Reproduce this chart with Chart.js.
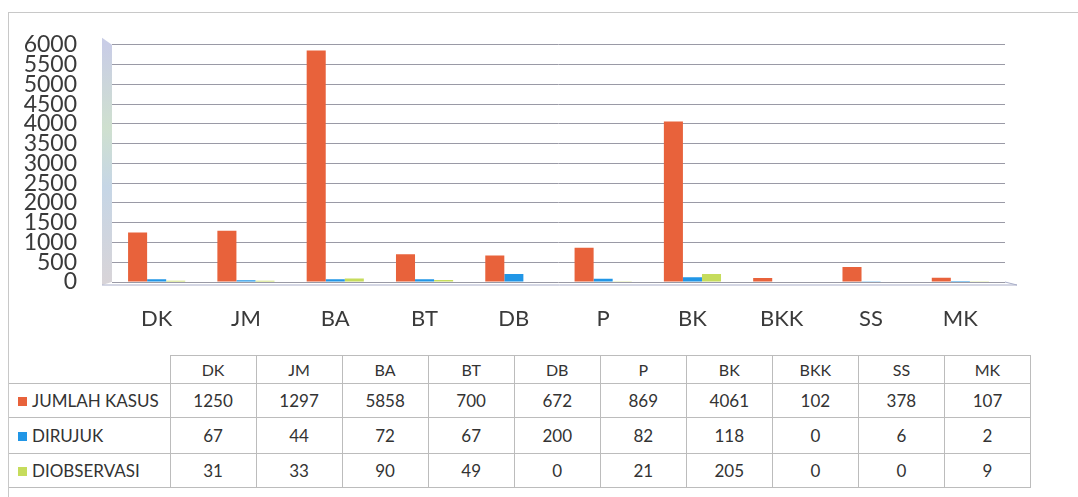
<!DOCTYPE html>
<html>
<head>
<meta charset="utf-8">
<script src="https://cdn.jsdelivr.net/npm/chart.js@4/dist/chart.umd.min.js"></script>
<style>
  html, body { margin: 0; padding: 0; background: #fff; }
  body { width: 1078px; height: 497px; position: relative; overflow: hidden; font-family: Lato, "Open Sans", sans-serif; }
  #frame { position: absolute; left: 8px; top: 12px; width: 1080px; height: 500px; border-left: 1px solid #c8c8c8; border-top: 1px solid #c8c8c8; }
  #chartBox { position: absolute; left: 0; top: 0; width: 1078px; height: 345px; }
  #dataTable { position: absolute; left: 9px; top: 355px; width: 1022px; table-layout: fixed; border-collapse: collapse; color: #333; font-size: 17px; }
  #dataTable td { border: 1px solid #bcbcbc; text-align: center; padding: 0; }
  #dataTable td.name { text-align: left; padding-left: 9px; border-left: none; white-space: nowrap; overflow: hidden; }
  #dataTable td.blank { border: none; border-bottom: 1px solid #bcbcbc; }
  #dataTable tr.head td { font-size: 16px; }
  .key { display: inline-block; width: 9px; height: 9px; margin-right: 5px; vertical-align: 1px; }
</style>
</head>
<body>
<div id="frame"></div>
<div id="chartBox"><canvas id="myChart" width="1078" height="345"></canvas></div>
<table id="dataTable"></table>
<script>
const categories = ['DK', 'JM', 'BA', 'BT', 'DB', 'P', 'BK', 'BKK', 'SS', 'MK'];
const jumlahKasus = [1250, 1297, 5858, 700, 672, 869, 4061, 102, 378, 107];
const dirujuk = [67, 44, 72, 67, 200, 82, 118, 0, 6, 2];
const diobservasi = [31, 33, 90, 49, 0, 21, 205, 0, 0, 9];
const yTicks = [0, 500, 1000, 1500, 2000, 2500, 3000, 3500, 4000, 4500, 5000, 5500, 6000];

const series = [
    { label: 'JUMLAH KASUS', data: jumlahKasus, color: '#e8623b' },
    { label: 'DIRUJUK', data: dirujuk, color: '#2196e6' },
    { label: 'DIOBSERVASI', data: diobservasi, color: '#c6dc5c' }
];

// 3D-ish side wall and floor, drawn behind the bars
const wallPlugin = {
    id: 'wall',
    beforeDatasetsDraw(chart) {
        const { ctx, chartArea } = chart;
        const l = chartArea.left, t = chartArea.top, b = chartArea.bottom, r = chartArea.right;
        ctx.save();
        const grad = ctx.createLinearGradient(0, t, 0, b);
        grad.addColorStop(0, '#c9cde6');
        grad.addColorStop(0.35, '#cfe0cf');
        grad.addColorStop(0.6, '#c6d6e6');
        grad.addColorStop(1, '#d8d4d8');
        ctx.fillStyle = grad;
        ctx.beginPath();
        ctx.moveTo(l - 10, t - 7);
        ctx.lineTo(l, t);
        ctx.lineTo(l, b);
        ctx.lineTo(l - 10, b + 3);
        ctx.closePath();
        ctx.fill();
        ctx.strokeStyle = '#a9aec8';
        ctx.lineWidth = 1;
        ctx.beginPath();
        ctx.moveTo(l - 10, b + 3);
        ctx.lineTo(r + 12, b + 3);
        ctx.lineTo(r, b);
        ctx.stroke();
        ctx.restore();
    }
};

const ctx = document.getElementById('myChart').getContext('2d');
new Chart(ctx, {
    type: 'bar',
    data: {
        labels: categories,
        datasets: series.map(s => ({
            label: s.label,
            data: s.data,
            backgroundColor: s.color,
            borderWidth: 0,
            categoryPercentage: 0.64,
            barPercentage: 1.0
        }))
    },
    options: {
        responsive: false,
        animation: false,
        layout: { padding: { left: 0, right: 73, top: 42, bottom: 0 } },
        plugins: {
            legend: { display: false },
            tooltip: { enabled: false }
        },
        scales: {
            x: {
                grid: { display: false, drawTicks: false },
                border: { display: false },
                ticks: {
                    color: '#3a3a3a',
                    font: { family: 'Lato', size: 22 },
                    padding: 24,
                    maxRotation: 0
                },
                afterFit(scale) { scale.height = 63; }
            },
            y: {
                min: 0,
                max: 6000,
                grid: { color: '#9a9aa6', drawTicks: false },
                border: { display: false },
                ticks: {
                    color: '#3a3a3a',
                    font: { family: 'Lato', size: 23, lineHeight: 0.85 },
                    padding: 35,
                    autoSkip: false,
                    callback: v => String(v)
                },
                afterBuildTicks(scale) { scale.ticks = yTicks.map(v => ({ value: v })); },
                afterFit(scale) { scale.width = 112; }
            }
        }
    },
    plugins: [wallPlugin]
});

// data table under the chart
const table = document.getElementById('dataTable');
let html = '<colgroup><col style="width:161px">';
categories.forEach(() => { html += '<col>'; });
html += '</colgroup><tr class="head" style="height:28px"><td class="blank"></td>';
categories.forEach(c => { html += `<td>${c}</td>`; });
html += '</tr>';
const rowH = [34, 36, 34];
series.forEach((s, i) => {
    html += `<tr style="height:${rowH[i]}px"><td class="name"><span class="key" style="background:${s.color}"></span>${s.label}</td>`;
    s.data.forEach(v => { html += `<td>${v}</td>`; });
    html += '</tr>';
});
table.innerHTML = html;
</script>
</body>
</html>
